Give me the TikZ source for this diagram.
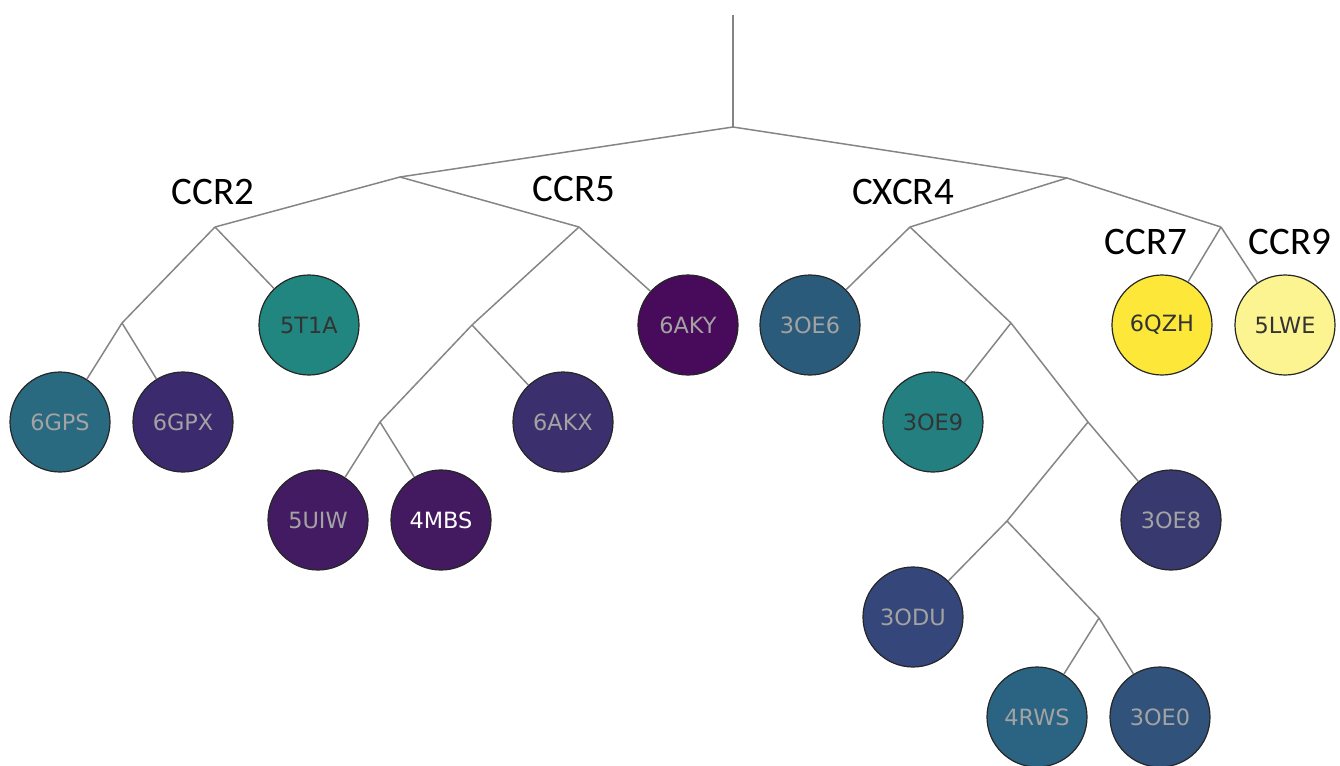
\documentclass[tikz,border=0pt]{standalone}
\usepackage{fontspec}
\setmainfont{DejaVu Sans}
\newfontfamily\cladefont{Carlito}
\usepackage{tikz}
\usetikzlibrary{calc}

% viridis colours
\definecolor{vGPS}{HTML}{2A6A80}
\definecolor{vTIA}{HTML}{21867F}
\definecolor{vGPX}{HTML}{3B2A6E}
\definecolor{vAKY}{HTML}{480A5A}
\definecolor{vAKX}{HTML}{3C2F6E}
\definecolor{vUIW}{HTML}{421B63}
\definecolor{vMBS}{HTML}{43195F}
\definecolor{vOEsix}{HTML}{2B5B7B}
\definecolor{vOEnine}{HTML}{237F80}
\definecolor{vOEeight}{HTML}{38396F}
\definecolor{vODU}{HTML}{34467A}
\definecolor{vRWS}{HTML}{2B6382}
\definecolor{vOEzero}{HTML}{30527B}
\definecolor{vQZH}{HTML}{FDE83A}
\definecolor{vLWE}{HTML}{FCF391}
\definecolor{edgegray}{HTML}{858585}
\definecolor{lightlbl}{HTML}{A3A3A3}
\definecolor{darklbl}{HTML}{333333}

\begin{document}
\begin{tikzpicture}[x=0.5pt, y=-0.5pt]

% Node and edge styles
\tikzset{leaf/.style={draw = black!85, line width = 0.6pt, shape = circle, minimum size = 50pt, inner sep = 0pt, font = \fontsize{11.2}{12}\selectfont, text = lightlbl}}
\tikzset{dleaf/.style={leaf, text = darklbl}}
\tikzset{br/.style={draw = edgegray, line width = 0.75pt}}
\tikzset{clade/.style={font = \cladefont\fontsize{19.5}{21}\selectfont}}

\useasboundingbox (0,0) rectangle (1340,766);

% Junctions
\coordinate (top) at (733, 15);
\coordinate (root) at (733, 127);
\coordinate (jA) at (400, 177);
\coordinate (jB) at (1067, 178);
\coordinate (jccr2) at (215, 227);
\coordinate (jccr5) at (579, 227);
\coordinate (jgp) at (122, 323);
\coordinate (j5a) at (472, 325);
\coordinate (j5b) at (380, 422);
\coordinate (jcx) at (910, 227);
\coordinate (jcx1) at (1011, 323);
\coordinate (jcx2) at (1088, 422);
\coordinate (jcx3) at (1007, 521);
\coordinate (jcx4) at (1099, 618);
\coordinate (jccr79) at (1221, 227);

% Leaves
\node (n6GPS) [leaf, fill = vGPS] at (60, 422) {6GPS};
\node (n6GPX) [leaf, fill = vGPX] at (183, 422) {6GPX};
\node (n5T1A) [dleaf, fill = vTIA] at (309, 325) {5T1A};
\node (n5UIW) [leaf, fill = vUIW] at (318, 520) {5UIW};
\node (n4MBS) [leaf, fill = vMBS, text = white] at (441, 520) {4MBS};
\node (n6AKX) [leaf, fill = vAKX] at (563, 422) {6AKX};
\node (n6AKY) [leaf, fill = vAKY] at (688, 325) {6AKY};
\node (n3OE6) [leaf, fill = vOEsix] at (810, 325) {3OE6};
\node (n3OE9) [dleaf, fill = vOEnine] at (933, 422) {3OE9};
\node (n3OE8) [leaf, fill = vOEeight] at (1171, 520) {3OE8};
\node (n3ODU) [leaf, fill = vODU] at (913, 617) {3ODU};
\node (n4RWS) [leaf, fill = vRWS] at (1037, 717) {4RWS};
\node (n3OE0) [leaf, fill = vOEzero] at (1160, 717) {3OE0};
\node (n6QZH) [dleaf, fill = vQZH] at (1162, 325) {6QZH};
\node (n5LWE) [dleaf, fill = vLWE] at (1285, 325) {5LWE};

% Branches
\draw[br] (top) -- (root);
\draw[br] (jA) -- (root) -- (jB);
\draw[br] (jccr2) -- (jA) -- (jccr5);

\draw[br] (jgp) -- (jccr2);
\draw[br] (jccr2) -- (n5T1A);
\draw[br] (jgp) -- (n6GPS);
\draw[br] (jgp) -- (n6GPX);

\draw[br] (j5a) -- (jccr5);
\draw[br] (jccr5) -- (n6AKY);
\draw[br] (j5b) -- (j5a);
\draw[br] (j5a) -- (n6AKX);
\draw[br] (j5b) -- (n5UIW);
\draw[br] (j5b) -- (n4MBS);

\draw[br] (jcx) -- (jB) -- (jccr79);
\draw[br] (jcx) -- (n3OE6);
\draw[br] (jcx) -- (jcx1);
\draw[br] (jcx1) -- (n3OE9);
\draw[br] (jcx1) -- (jcx2);
\draw[br] (jcx2) -- (n3OE8);
\draw[br] (jcx2) -- (jcx3);
\draw[br] (jcx3) -- (n3ODU);
\draw[br] (jcx3) -- (jcx4);
\draw[br] (jcx4) -- (n4RWS);
\draw[br] (jcx4) -- (n3OE0);

\draw[br] (jccr79) -- (n6QZH);
\draw[br] (jccr79) -- (n5LWE);

% Clade labels
\node (lccr2) [clade] at (213, 192) {CCR2};
\node (lccr5) [clade] at (574, 189) {CCR5};
\node (lcxcr4) [clade] at (903, 192) {CXCR4};
\node (lccr7) [clade] at (1146, 242) {CCR7};
\node (lccr9) [clade] at (1290, 242) {CCR9};

\end{tikzpicture}
\end{document}
